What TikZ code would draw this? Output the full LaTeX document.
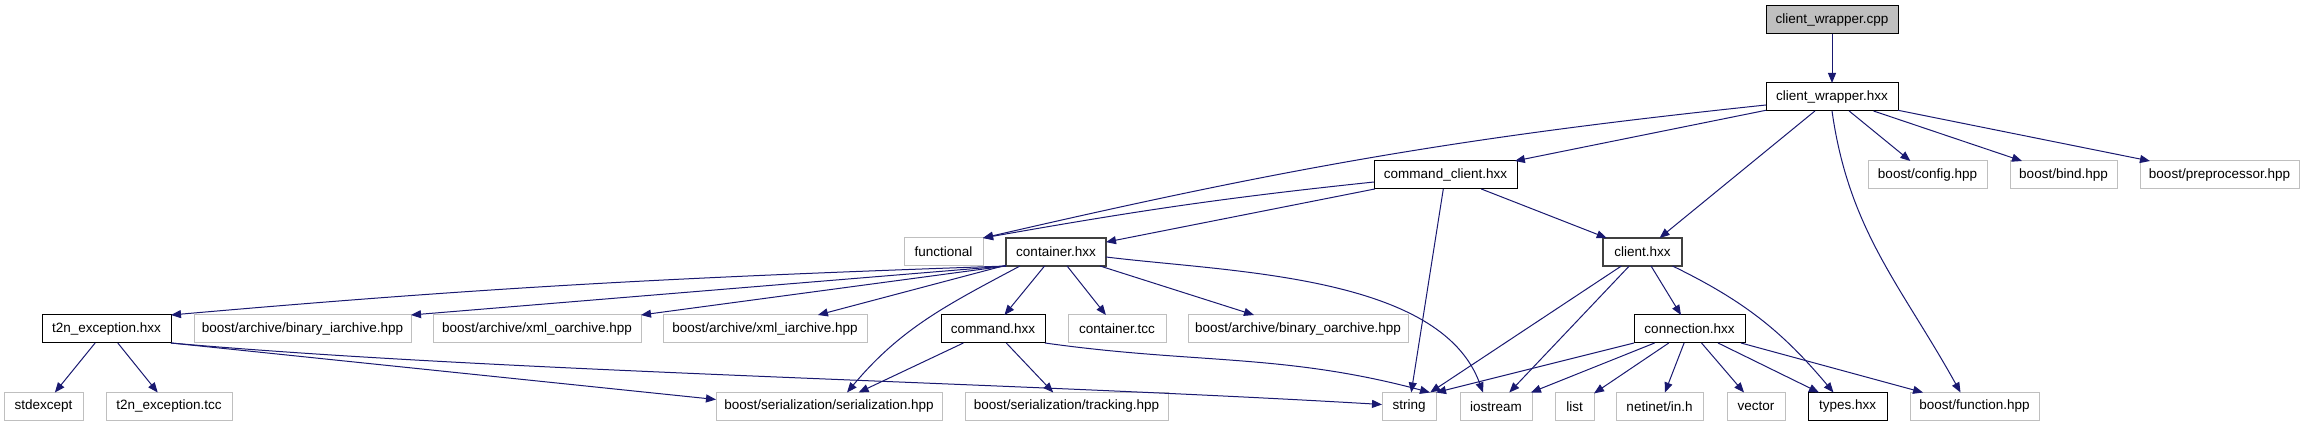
\documentclass[tikz,border=0pt]{standalone}
\usepackage{fontspec}
\setmainfont{Liberation Sans}
\usepackage{tikz}
\usetikzlibrary{arrows.meta}
\definecolor{edgeblue}{RGB}{25,25,112}
\definecolor{extgray}{RGB}{191,191,191}
\definecolor{srcgray}{RGB}{191,191,191}
\definecolor{darkframe}{RGB}{64,64,64}

\begin{document}
\begin{tikzpicture}[
        x=1pt,y=-1pt,
        file/.style={draw=black,line width=1pt,minimum height=28pt,
                     inner sep=0pt,outer sep=0pt,text=black,
                     font=\fontsize{13.5}{16}\selectfont},
        src/.style={file,fill=srcgray},
        loc/.style={file,draw=darkframe,line width=1.3pt},
        sys/.style={file,draw=extgray},
        dep/.style={-{Triangle[length=10pt,width=8pt]},line width=1pt,edgeblue},
      ]
        \useasboundingbox (0,0) rectangle (2304,427);
        % rows of the include graph
        \node[src,minimum width=132pt](cpp) at (1832,20){client\_wrapper.cpp};
        \node[file,minimum width=132pt](cwh) at (1832,97){client\_wrapper.hxx};

        \node[file,minimum width=143pt](cc) at (1445.5,175){command\_client.hxx};
        \node[sys,minimum width=119pt](cfg) at (1927.5,175){boost/config.hpp};
        \node[sys,minimum width=107pt](bind) at (2063.5,175){boost/bind.hpp};
        \node[sys,minimum width=159pt](prep) at (2219.5,175){boost/preprocessor.hpp};

        \node[sys,minimum width=79pt](func) at (943.5,252){functional};
        \node[loc,minimum width=100pt](ctr) at (1056,252){container.hxx};
        \node[loc,minimum width=79pt](cl) at (1642.5,252){client.hxx};

        \node[file,minimum width=129pt](t2n) at (106.5,329){t2n\_exception.hxx};
        \node[sys,minimum width=217pt](biar) at (302.5,329){boost/archive/binary\_iarchive.hpp};
        \node[sys,minimum width=208pt](xoar) at (537,329){boost/archive/xml\_oarchive.hpp};
        \node[sys,minimum width=204pt](xiar) at (765,329){boost/archive/xml\_iarchive.hpp};
        \node[file,minimum width=104pt](cmd) at (993,329){command.hxx};
        \node[sys,minimum width=98pt](ctcc) at (1117,329){container.tcc};
        \node[sys,minimum width=220pt](boar) at (1298,329){boost/archive/binary\_oarchive.hpp};
        \node[file,minimum width=111pt](conn) at (1689.5,329){connection.hxx};

        \node[sys,minimum width=79pt](stdx) at (43.5,406.5){stdexcept};
        \node[sys,minimum width=126pt](ttcc) at (169,406.5){t2n\_exception.tcc};
        \node[sys,minimum width=226pt](ser) at (829,406.5){boost/serialization/serialization.hpp};
        \node[sys,minimum width=203pt](trk) at (1066.5,406.5){boost/serialization/tracking.hpp};
        \node[sys,minimum width=54pt](str) at (1409,406.5){string};
        \node[sys,minimum width=72pt](ios) at (1496,406.5){iostream};
        \node[sys,minimum width=39pt](lst) at (1574.5,406.5){list};
        \node[sys,minimum width=87pt](inh) at (1659.5,406.5){netinet/in.h};
        \node[sys,minimum width=58pt](vec) at (1756,406.5){vector};
        \node[file,minimum width=79pt](typ) at (1847.5,406.5){types.hxx};
        \node[sys,minimum width=129pt](fun) at (1974.5,406.5){boost/function.hpp};

        % client_wrapper
        \draw[dep](cpp)--(cwh);
        \draw[dep]([yshift=-8pt]cwh.west) to[out=186,in=13] (func.north east);
        \draw[dep](cwh)--(cc);
        \draw[dep](cwh)--(cl);
        \draw[dep](cwh.south) to[out=-82,in=119] ([xshift=-14pt]fun.north);
        \draw[dep](cwh)--(cfg);
        \draw[dep](cwh)--(bind);
        \draw[dep](cwh)--(prep);

        % command_client
        \draw[dep]([yshift=-7pt]cc.west) to[out=186,in=10] (func.north east);
        \draw[dep](cc)--(ctr);
        \draw[dep](cc)--(str);
        \draw[dep](cc)--(cl);

        % container
        \draw[dep](ctr.south west) to[out=182,in=5] (t2n.north east);
        \draw[dep](ctr.south west)--(biar.north east);
        \draw[dep](ctr.south west)--(xoar.north east);
        \draw[dep](ctr)--(xiar);
        \draw[dep]([xshift=-36pt]ctr.south) to[out=208,in=50] ([xshift=18pt]ser.north);
        \draw[dep](ctr)--(cmd);
        \draw[dep](ctr)--(ctcc);
        \draw[dep](ctr)--(boar);
        \draw[dep]([yshift=-5pt]ctr.east) to[out=-7,in=110,looseness=0.8] ([xshift=-13pt]ios.north);

        % t2n_exception
        \draw[dep](t2n)--(stdx);
        \draw[dep](t2n)--(ttcc);
        \draw[dep](t2n.south east)--([yshift=7pt]ser.west);
        \draw[dep](t2n.south east) .. controls (500,372) and (1000,382) .. ([yshift=2pt]str.west);

        % command
        \draw[dep](cmd)--(ser);
        \draw[dep](cmd)--(trk);
        \draw[dep](cmd.south east) to[out=-8,in=165] ([xshift=-6pt]str.north east);

        % client
        \draw[dep](cl)--(str);
        \draw[dep](cl)--(ios);
        \draw[dep](cl)--(conn);
        \draw[dep](cl.-25) to[out=-26,in=130] ([xshift=-14pt]typ.north);

        % connection
        \draw[dep](conn.south west)--(str.north east);
        \draw[dep](conn)--(ios);
        \draw[dep](conn)--(lst);
        \draw[dep](conn)--(inh);
        \draw[dep](conn)--(vec);
        \draw[dep](conn)--(typ);
        \draw[dep](conn)--(fun);
      \end{tikzpicture}
\end{document}
